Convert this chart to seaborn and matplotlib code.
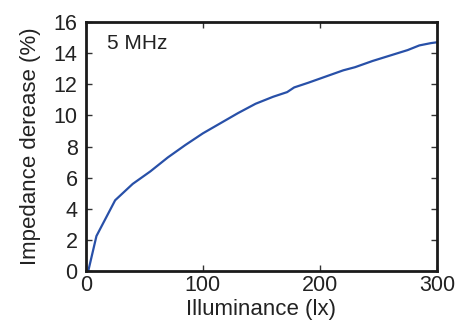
import matplotlib
matplotlib.use("Agg")
import matplotlib.pyplot as plt
import seaborn as sns
import pandas as pd

# Impedance decrease versus illuminance at 5 MHz
illuminance = [2, 9, 25, 40, 55, 70, 85, 100, 115, 130, 145, 160, 172, 178,
               190, 205, 220, 230, 245, 260, 275, 285, 295, 300]
impedance_decrease = [0, 2.25, 4.55, 5.6, 6.4, 7.3, 8.1, 8.85, 9.5, 10.15, 10.75,
                      11.2, 11.5, 11.8, 12.1, 12.5, 12.9, 13.1, 13.5, 13.85, 14.2,
                      14.5, 14.65, 14.7]
x_ticks = [0, 100, 200, 300]
y_ticks = [0, 2, 4, 6, 8, 10, 12, 14, 16]

sns.set_style("ticks")
plt.rcParams["font.family"] = ["Liberation Sans", "DejaVu Sans"]

df = pd.DataFrame({"illuminance": illuminance, "decrease": impedance_decrease})

fig = plt.figure(figsize=(4.57, 3.2), dpi=100)
ax = fig.add_axes([0.188, 0.153, 0.768, 0.778])
sns.lineplot(data=df, x="illuminance", y="decrease", ax=ax,
             color="#2850a8", linewidth=1.6)

ax.set_xlim(0, 300)
ax.set_ylim(0, 16)
ax.set_xticks(x_ticks)
ax.set_yticks(y_ticks)
ax.tick_params(direction="in", length=4, width=1, labelsize=15.5,
               top=True, right=True, colors="#333333", labelcolor="#222222")
ax.tick_params(axis="y", pad=6)
ax.tick_params(axis="x", pad=3)
for sp in ax.spines.values():
    sp.set_linewidth(2)
    sp.set_color("#1a1a1a")
    sp.set_visible(True)

ax.set_xlabel("Illuminance (lx)", fontsize=16, labelpad=2, color="#222222")
ax.set_ylabel("Impedance derease (%)", fontsize=16, labelpad=9, color="#222222")
ax.text(0.06, 0.915, "5 MHz", transform=ax.transAxes, fontsize=15,
        va="center", ha="left", color="#222222")

fig.savefig("out.png", dpi=100)
